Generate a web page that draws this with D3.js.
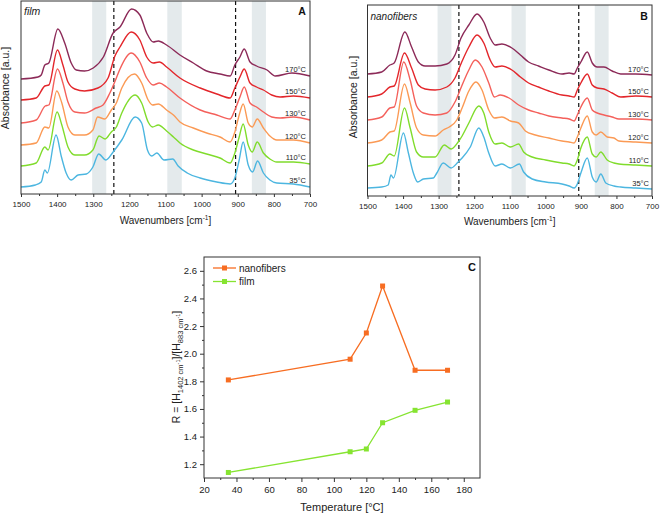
<!DOCTYPE html>
<html><head><meta charset="utf-8">
<script src="https://cdn.jsdelivr.net/npm/d3@7"></script>
<style>body{margin:0;background:#fff;} svg{display:block;font-family:Arial,"Liberation Sans",sans-serif;}</style>
</head><body><svg id="chart" width="661" height="514"></svg>
<script>
// ---------- data ----------
const tempLabels = ["170°C","150°C","130°C","120°C","110°C","35°C"];
const tempColors = ["#8c2a58","#e3262b","#f4605b","#fb9a55","#80dc2c","#4cb6e0"];
const wnTicks = [1500,1400,1300,1200,1100,1000,900,800,700];
const wnMinor = [1450,1350,1250,1150,1050,950,850,750];
const bands = [[1303,1264],[1095,1055],[861,822]];
const dashedWn = [1243,906];

// film spectra [wavenumber, absorbance a.u.]
const film170 = [[1500,115],[1453,117],[1444,119],[1434,129],[1423,131],[1398,165],[1379,151],[1361,131],[1347,124],[1324,123],[1300,126],[1272,137],[1245,161],[1226,167],[1194,185],[1171,179],[1152,161],[1134,152],[1120,153],[1097,149],[1060,139],[1023,131],[986,123],[949,120],[921,118],[908,129],[894,137],[882,145],[866,132],[848,128],[819,124],[796,118],[750,121],[700,118]];
const film150 = [[1500,94],[1458,96],[1434,108],[1423,109],[1399,144],[1384,129],[1370,112],[1351,105],[1324,103],[1287,106],[1259,116],[1240,138],[1226,147],[1195,162],[1171,154],[1152,137],[1134,131],[1117,132],[1097,127],[1060,116],[1004,106],[958,100],[921,96],[908,106],[894,117],[882,125],[866,111],[848,107],[829,104],[806,99],[783,97],[746,98],[700,96]];
const film130 = [[1500,71],[1458,74],[1433,88],[1423,89],[1399,125],[1384,111],[1370,92],[1351,82],[1324,81],[1292,86],[1273,89],[1254,101],[1236,116],[1226,125],[1195,141],[1171,132],[1152,116],[1134,109],[1117,111],[1097,107],[1060,96],[1004,84],[958,79],[921,75],[908,84],[894,97],[882,107],[866,91],[848,87],[829,82],[806,77],[783,76],[746,77],[700,74]];
const film120 = [[1500,49],[1458,51],[1434,67],[1423,66],[1401,103],[1387,91],[1370,67],[1351,59],[1324,59],[1301,64],[1288,77],[1268,75],[1250,84],[1236,91],[1221,106],[1186,120],[1166,111],[1148,94],[1136,89],[1120,90],[1097,84],[1078,79],[1060,72],[1023,66],[986,61],[949,57],[921,52],[908,62],[896,79],[885,90],[871,71],[860,67],[846,75],[829,66],[811,58],[792,54],[746,54],[700,51]];
const film110 = [[1500,28],[1458,31],[1434,47],[1425,44],[1400,82],[1387,69],[1370,47],[1351,39],[1324,39],[1301,44],[1284,58],[1267,55],[1250,62],[1236,67],[1221,81],[1184,99],[1166,91],[1148,72],[1136,67],[1120,69],[1097,63],[1078,57],[1060,51],[1023,44],[986,40],[949,36],[921,31],[908,41],[896,57],[885,70],[871,49],[860,42],[846,52],[829,41],[811,35],[792,32],[746,32],[700,30]];
const film35 = [[1500,7],[1460,9],[1444,12],[1434,24],[1427,21],[1403,59],[1388,37],[1375,21],[1361,14],[1342,19],[1319,20],[1301,27],[1285,40],[1265,34],[1245,42],[1221,54],[1184,77],[1166,71],[1150,44],[1138,38],[1124,41],[1104,34],[1080,35],[1065,28],[1040,21],[1004,16],[958,12],[921,10],[908,16],[896,34],[885,52],[871,29],[859,22],[845,33],[829,21],[811,14],[792,11],[746,10],[700,7]];

// nanofiber spectra
const nano170 = [[1500,122],[1460,124],[1437,131],[1425,133],[1395,164],[1376,149],[1357,134],[1338,130],[1310,130],[1277,132],[1254,141],[1237,158],[1215,171],[1192,182],[1173,174],[1155,158],[1141,151],[1122,152],[1094,148],[1070,141],[1047,134],[1019,130],[990,126],[953,122],[933,123],[919,122],[910,128],[900,134],[882,144],[868,133],[854,129],[835,129],[812,125],[788,122],[746,122],[700,121]];
const nano150 = [[1500,99],[1460,102],[1437,109],[1425,110],[1396,143],[1376,128],[1357,111],[1338,107],[1310,106],[1277,109],[1254,118],[1235,134],[1215,149],[1192,161],[1173,153],[1155,136],[1141,129],[1122,130],[1094,126],[1070,119],[1047,113],[1019,109],[990,105],[953,101],[933,100],[919,99],[910,106],[900,113],[882,122],[868,111],[854,108],[835,107],[812,103],[788,99],[746,100],[700,99]];
const nano130 = [[1500,76],[1460,79],[1437,88],[1425,89],[1398,134],[1380,116],[1362,90],[1343,83],[1310,81],[1277,83],[1254,94],[1235,110],[1215,126],[1197,136],[1178,129],[1159,113],[1143,99],[1127,101],[1102,98],[1075,91],[1047,86],[1019,83],[990,80],[953,78],[933,77],[919,75],[910,81],[900,89],[882,98],[868,86],[854,83],[835,81],[812,79],[793,77],[746,77],[700,76]];
const nano120 = [[1500,53],[1460,56],[1437,64],[1425,65],[1396,112],[1380,93],[1362,68],[1343,61],[1310,60],[1287,66],[1270,69],[1249,76],[1234,88],[1215,105],[1195,114],[1178,106],[1159,86],[1143,78],[1122,79],[1098,75],[1075,73],[1056,65],[1028,61],[990,58],[953,55],[933,54],[919,53],[910,59],[900,68],[882,80],[868,64],[857,61],[844,64],[826,59],[807,58],[793,55],[746,54],[700,53]];
const nano110 = [[1500,30],[1460,33],[1437,42],[1425,40],[1396,88],[1380,68],[1362,44],[1343,39],[1310,39],[1284,51],[1265,47],[1245,54],[1234,60],[1215,73],[1187,90],[1173,83],[1159,64],[1141,52],[1122,53],[1098,49],[1075,52],[1061,44],[1037,39],[999,36],[953,33],[933,32],[919,30],[910,36],[900,48],[882,59],[868,42],[857,39],[844,44],[826,36],[807,33],[793,32],[746,31],[700,30]];
const nano35 = [[1500,8],[1460,9],[1442,11],[1434,21],[1427,18],[1399,63],[1385,43],[1371,23],[1359,14],[1343,17],[1315,18],[1305,23],[1287,33],[1265,28],[1245,34],[1234,38],[1211,49],[1187,68],[1173,59],[1159,43],[1141,30],[1122,32],[1098,28],[1073,32],[1061,24],[1037,17],[999,14],[953,12],[933,10],[919,8],[910,12],[900,23],[882,38],[868,19],[857,14],[844,22],[830,13],[807,10],[788,9],[746,8],[700,7]];

// panel C
const ratioTemps = [35,110,120,130,150,170];
const ratioNanofibers = [1.81,1.96,2.15,2.49,1.88,1.88];
const ratioFilm = [1.14,1.29,1.31,1.50,1.59,1.65];
const tempTicks = [20,40,60,80,100,120,140,160,180];
const ratioTicks = [1.2,1.4,1.6,1.8,2.0,2.2,2.4,2.6];
const seriesNames = ["nanofibers","film"];
const seriesColors = ["#f76d22","#86e431"];

// ---------- drawing ----------
const svg = d3.select("#chart");
const frameColor = "#333";

function spectraPanel(opt, series, sample, letter) {
  const {x0,x1,y0,y1} = opt;
  const x = d3.scaleLinear().domain([1500,700]).range([x0,x1]);
  const y = d3.scaleLinear().domain([0,y1-y0]).range([y1,y0]);
  const g = svg.append("g");
  g.selectAll("rect.band").data(bands).join("rect")
    .attr("x", d=>x(d[0])).attr("width", d=>x(d[1])-x(d[0]))
    .attr("y", y0).attr("height", y1-y0).attr("fill","#e4eaec");
  g.selectAll("line.dash").data(dashedWn).join("line")
    .attr("x1", d=>x(d)).attr("x2", d=>x(d)).attr("y1", y0).attr("y2", y1)
    .attr("stroke","#111").attr("stroke-width",1.2).attr("stroke-dasharray","4,3");
  const line = d3.line().x(d=>x(d[0])).y(d=>y(d[1])).curve(d3.curveMonotoneX);
  series.forEach((s,i)=>{
    g.append("path").datum(s).attr("d", line).attr("fill","none")
      .attr("stroke", tempColors[i]).attr("stroke-width",1.4);
    const last = s[s.length-1];
    g.append("text").attr("x", opt.labelX).attr("y", y(last[1]) - opt.labelDy)
      .attr("text-anchor","end").attr("font-size",7.5).attr("fill","#222").text(tempLabels[i]);
  });
  const ax = g.append("g").attr("transform",`translate(0,${y1})`)
    .call(d3.axisBottom(x).tickValues(wnTicks).tickSize(3).tickSizeOuter(0).tickFormat(d3.format("d")));
  ax.select(".domain").remove();
  ax.selectAll("text").attr("font-size",8).attr("fill","#222").attr("dy","0.9em");
  ax.selectAll("line").attr("stroke",frameColor);
  const axm = g.append("g").attr("transform",`translate(0,${y1})`)
    .call(d3.axisBottom(x).tickValues(wnMinor).tickSize(2).tickFormat(""));
  axm.select(".domain").remove();
  axm.selectAll("line").attr("stroke",frameColor);
  g.append("rect").attr("x",x0).attr("y",y0).attr("width",x1-x0).attr("height",y1-y0)
    .attr("fill","none").attr("stroke",frameColor).attr("stroke-width",1);
  const t = g.append("text").attr("x",(x0+x1)/2).attr("y",opt.xTitleY).attr("text-anchor","middle")
    .attr("font-size",10).attr("fill","#222");
  t.append("tspan").text("Wavenumbers [cm");
  t.append("tspan").attr("font-size",6.5).attr("dy",-4).text("-1");
  t.append("tspan").attr("dy",4).text("]");
  g.append("text").attr("transform",`translate(${opt.yTitleX},${opt.yTitleY}) rotate(-90)`)
    .attr("text-anchor","middle").attr("font-size",10.5).attr("fill","#222").text("Absorbance [a.u.]");
  g.append("text").attr("x",x0+3).attr("y",opt.sampleY).attr("font-size",opt.sampleSize)
    .attr("font-style","italic").attr("fill","#222").text(sample);
  g.append("text").attr("x",opt.letterX).attr("y",opt.sampleY).attr("font-size",10.5)
    .attr("font-weight","bold").attr("text-anchor","middle").attr("fill","#111").text(letter);
}

spectraPanel({x0:21,x1:310,y0:1,y1:194,labelX:306,labelDy:4.5,xTitleY:224,yTitleX:9,yTitleY:88,sampleY:14.5,sampleSize:10.5,letterX:302},
  [film170,film150,film130,film120,film110,film35],"film","A");
spectraPanel({x0:367.5,x1:652,y0:5,y1:196,labelX:649,labelDy:3.5,xTitleY:225,yTitleX:357,yTitleY:97,sampleY:19.5,sampleSize:10,letterX:644},
  [nano170,nano150,nano130,nano120,nano110,nano35],"nanofibers","B");

// ---------- panel C ----------
(function(){
  const x0=204,x1=480,y0=257,y1=478;
  const x = d3.scaleLinear().domain([20,190]).range([x0,x1]);
  const y = d3.scaleLinear().domain([1.1,2.7]).range([y1,y0]);
  const g = svg.append("g");
  const line = d3.line().x(d=>x(d[0])).y(d=>y(d[1]));
  [ratioNanofibers, ratioFilm].forEach((vals,i)=>{
    const pts = ratioTemps.map((t,j)=>[t,vals[j]]);
    g.append("path").datum(pts).attr("d",line).attr("fill","none")
      .attr("stroke",seriesColors[i]).attr("stroke-width",1.3);
    g.selectAll(null).data(pts).join("rect")
      .attr("x",d=>x(d[0])-2.5).attr("y",d=>y(d[1])-2.5).attr("width",5).attr("height",5)
      .attr("fill",seriesColors[i]);
    const ly = 268 + i*13.5;
    g.append("line").attr("x1",213).attr("x2",236).attr("y1",ly).attr("y2",ly)
      .attr("stroke",seriesColors[i]).attr("stroke-width",1.3);
    g.append("rect").attr("x",224.5-2.5).attr("y",ly-2.5).attr("width",5).attr("height",5).attr("fill",seriesColors[i]);
    g.append("text").attr("x",239).attr("y",ly+3.5).attr("font-size",10).attr("fill","#222").text(seriesNames[i]);
  });
  const minorX = d3.range(30,190,20);
  const minorY = d3.range(1.3,2.7,0.2).map(v=>+v.toFixed(1));
  const ax = g.append("g").attr("transform",`translate(0,${y1})`)
    .call(d3.axisBottom(x).tickValues(tempTicks).tickSize(4).tickSizeOuter(0));
  ax.select(".domain").remove();
  ax.selectAll("text").attr("font-size",9.5).attr("fill","#222").attr("dy","0.85em");
  const axm = g.append("g").attr("transform",`translate(0,${y1})`)
    .call(d3.axisBottom(x).tickValues(minorX).tickSize(2).tickFormat(""));
  axm.select(".domain").remove();
  const ay = g.append("g").attr("transform",`translate(${x0},0)`)
    .call(d3.axisLeft(y).tickValues(ratioTicks).tickSize(4).tickSizeOuter(0).tickFormat(d3.format(".1f")));
  ay.select(".domain").remove();
  ay.selectAll("text").attr("font-size",9.5).attr("fill","#222");
  const aym = g.append("g").attr("transform",`translate(${x0},0)`)
    .call(d3.axisLeft(y).tickValues(minorY).tickSize(2).tickFormat(""));
  aym.select(".domain").remove();
  g.selectAll(".tick line").attr("stroke",frameColor);
  g.append("rect").attr("x",x0).attr("y",y0).attr("width",x1-x0).attr("height",y1-y0)
    .attr("fill","none").attr("stroke",frameColor).attr("stroke-width",1);
  g.append("text").attr("x",472).attr("y",271).attr("text-anchor","middle").attr("font-size",11)
    .attr("font-weight","bold").attr("fill","#111").text("C");
  g.append("text").attr("x",(x0+x1)/2).attr("y",510.5).attr("text-anchor","middle")
    .attr("font-size",11).attr("fill","#222").text("Temperature [°C]");
  const yt = g.append("text").attr("transform",`translate(180,367) rotate(-90)`)
    .attr("text-anchor","middle").attr("font-size",10.5).attr("fill","#222");
  yt.append("tspan").text("R = [H");
  yt.append("tspan").attr("font-size",7.5).attr("dy",3).text("1402 cm");
  yt.append("tspan").attr("font-size",5.5).attr("dy",-3).text("-1");
  yt.append("tspan").attr("dy",0).text("]/[H");
  yt.append("tspan").attr("font-size",7.5).attr("dy",3).text("883 cm");
  yt.append("tspan").attr("font-size",5.5).attr("dy",-3).text("-1");
  yt.append("tspan").text("]");
})();
</script></body></html>
